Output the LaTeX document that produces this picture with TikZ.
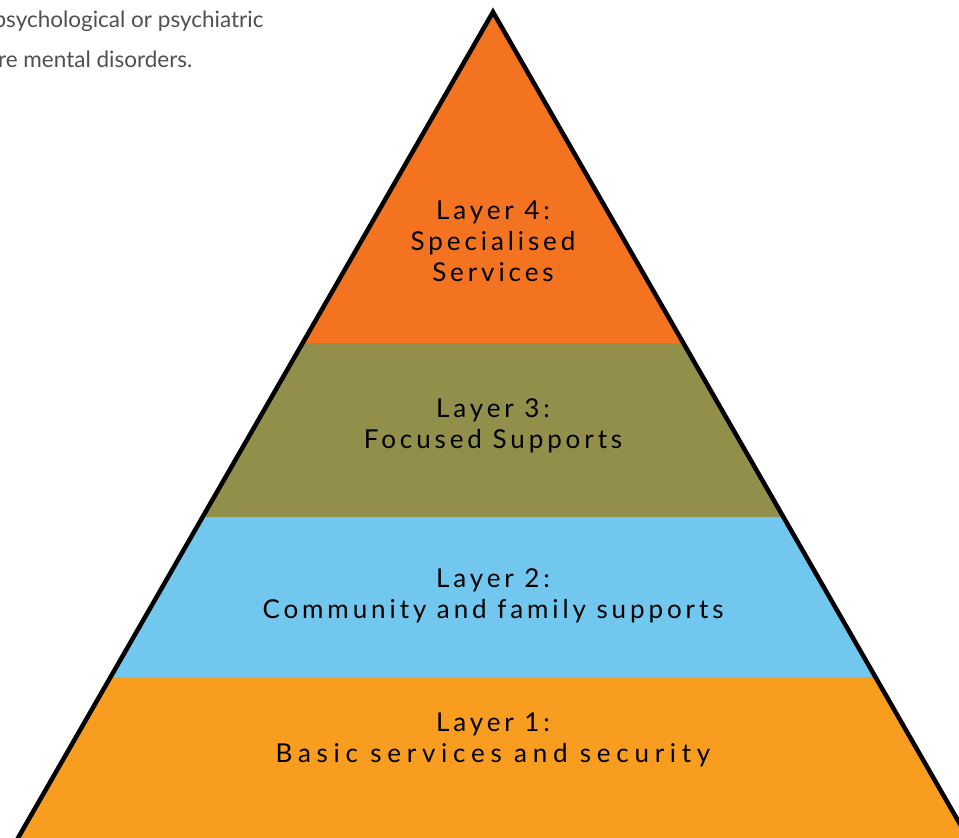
\documentclass[tikz,border=0pt]{standalone}
\usepackage{fontspec}
\setmainfont{Lato}
\newfontfamily\layerfont[LetterSpace=15]{Lato}
\usepackage{xcolor}
\definecolor{topOrange}{HTML}{F37321}
\definecolor{olive}{HTML}{928F4B}
\definecolor{skyBlue}{HTML}{72C7EE}
\definecolor{baseOrange}{HTML}{F89D1F}
\definecolor{noteGray}{HTML}{505050}
\tikzset{
    layerText/.style={align=center, font=\layerfont\fontsize{26}{31}\selectfont, text=black},
    noteText/.style={anchor=base east, font=\fontsize{22.5}{27}\selectfont, text=noteGray}
}
\newcommand{\band}[5]{
    \fill[#5] (493-#3,#1) -- (493+#3,#1) -- (493+#4,#2) -- (493-#4,#2) -- cycle
}

\begin{document}
\begin{tikzpicture}[x=1pt,y=-1pt]
            \useasboundingbox (0,0) rectangle (959,838);
            \clip (0,0) rectangle (959,838);

            % bands, top to bottom
            \fill[topOrange] (493,12) -- (683.4,343) -- (302.6,343) -- cycle;
            \band{343}{517}{190.4}{290.4}{olive};
            \band{517}{677}{290.4}{382.4}{skyBlue};
            \band{677}{850}{382.4}{481.9}{baseOrange};

            \coordinate (apex) at (493,12);
            \coordinate (baseL) at (11.1,850);
            \coordinate (baseR) at (974.9,850);
            \draw[line width=4.5pt, line join=miter] (baseL) -- (apex) -- (baseR);

            \node[layerText] (layer4) at (493,241.5) {Layer 4:\\Specialised\\Services};
            \node[layerText] (layer3) at (493,426) {Layer 3:\\Focused Supports};
            \node[layerText] (layer2) at (493,595.5) {Layer 2:\\Community and family supports};
            \node[layerText] (layer1) at (493,740) {Layer 1:\\\addfontfeature{LetterSpace=22}Basic services and security};

            \node[noteText] (note1) at (267,27) {psychological or psychiatric};
            \node[noteText] (note2) at (196,67) {re mental disorders.};
        \end{tikzpicture}
\end{document}
